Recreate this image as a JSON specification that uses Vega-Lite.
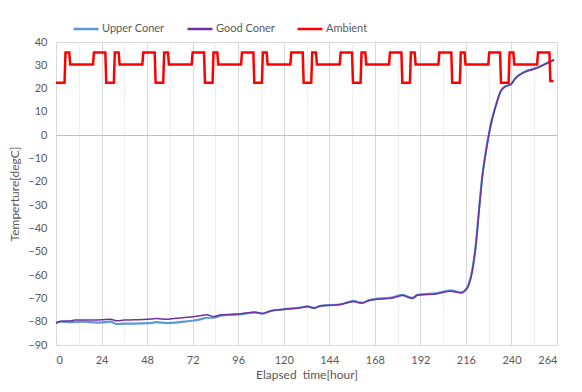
{
  "$schema": "https://vega.github.io/schema/vega-lite/v6.json",
  "width": 501,
  "height": 303,
  "autosize": "none",
  "padding": {"left": 56, "top": 42, "right": 25, "bottom": 47},
  "background": "white",
  "config": {
    "font": "Lato",
    "view": {"stroke": "#d9d9d9"},
    "axis": {
      "labelColor": "#595959",
      "titleColor": "#595959",
      "labelFontSize": 11,
      "titleFontSize": 12,
      "titleFontWeight": "normal",
      "ticks": false,
      "domain": false,
      "gridWidth": 1
    }
  },
  "data": {
    "values": [
      {"s": "Upper Coner", "h": 0, "t": -80.4},
      {"s": "Upper Coner", "h": 3, "t": -80.0},
      {"s": "Upper Coner", "h": 7.5, "t": -80.2},
      {"s": "Upper Coner", "h": 14.6, "t": -80.0},
      {"s": "Upper Coner", "h": 20, "t": -80.3},
      {"s": "Upper Coner", "h": 23.4, "t": -80.4},
      {"s": "Upper Coner", "h": 28.6, "t": -80.0},
      {"s": "Upper Coner", "h": 32, "t": -81.0},
      {"s": "Upper Coner", "h": 36, "t": -80.8},
      {"s": "Upper Coner", "h": 41, "t": -80.8},
      {"s": "Upper Coner", "h": 49.7, "t": -80.6},
      {"s": "Upper Coner", "h": 53, "t": -80.2},
      {"s": "Upper Coner", "h": 58.5, "t": -80.6},
      {"s": "Upper Coner", "h": 67.3, "t": -80.0},
      {"s": "Upper Coner", "h": 72, "t": -79.6},
      {"s": "Upper Coner", "h": 76, "t": -79.0},
      {"s": "Upper Coner", "h": 79.6, "t": -78.3},
      {"s": "Upper Coner", "h": 83, "t": -78.3},
      {"s": "Upper Coner", "h": 86.7, "t": -77.4},
      {"s": "Upper Coner", "h": 97, "t": -76.9},
      {"s": "Upper Coner", "h": 105, "t": -76.0},
      {"s": "Upper Coner", "h": 108.7, "t": -76.6},
      {"s": "Upper Coner", "h": 113, "t": -75.4},
      {"s": "Upper Coner", "h": 120, "t": -74.7},
      {"s": "Upper Coner", "h": 129, "t": -73.9},
      {"s": "Upper Coner", "h": 132.4, "t": -73.4},
      {"s": "Upper Coner", "h": 136, "t": -74.1},
      {"s": "Upper Coner", "h": 139.4, "t": -73.2},
      {"s": "Upper Coner", "h": 150, "t": -72.5},
      {"s": "Upper Coner", "h": 157, "t": -71.1},
      {"s": "Upper Coner", "h": 159.6, "t": -71.7},
      {"s": "Upper Coner", "h": 161.4, "t": -71.9},
      {"s": "Upper Coner", "h": 165, "t": -70.7},
      {"s": "Upper Coner", "h": 178, "t": -69.4},
      {"s": "Upper Coner", "h": 182.5, "t": -68.5},
      {"s": "Upper Coner", "h": 187.8, "t": -69.8},
      {"s": "Upper Coner", "h": 190.4, "t": -68.5},
      {"s": "Upper Coner", "h": 201, "t": -67.7},
      {"s": "Upper Coner", "h": 208, "t": -66.5},
      {"s": "Upper Coner", "h": 211.5, "t": -67.2},
      {"s": "Upper Coner", "h": 213.3, "t": -67.5},
      {"s": "Upper Coner", "h": 216, "t": -66.2},
      {"s": "Upper Coner", "h": 217.6, "t": -63.6},
      {"s": "Upper Coner", "h": 219.2, "t": -58.5},
      {"s": "Upper Coner", "h": 221.2, "t": -47.0},
      {"s": "Upper Coner", "h": 223, "t": -31.0},
      {"s": "Upper Coner", "h": 224.7, "t": -17.0},
      {"s": "Upper Coner", "h": 226.5, "t": -7.0},
      {"s": "Upper Coner", "h": 229, "t": 4.2},
      {"s": "Upper Coner", "h": 231.7, "t": 12.6},
      {"s": "Upper Coner", "h": 234.4, "t": 19.0},
      {"s": "Upper Coner", "h": 237, "t": 21.1},
      {"s": "Upper Coner", "h": 239.6, "t": 21.8},
      {"s": "Upper Coner", "h": 242.3, "t": 24.7},
      {"s": "Upper Coner", "h": 246.7, "t": 27.1},
      {"s": "Upper Coner", "h": 253.7, "t": 29.0},
      {"s": "Upper Coner", "h": 259, "t": 31.1},
      {"s": "Upper Coner", "h": 262.5, "t": 32.4},

      {"s": "Good Coner", "h": 0, "t": -80.7},
      {"s": "Good Coner", "h": 1, "t": -80.2},
      {"s": "Good Coner", "h": 3, "t": -79.8},
      {"s": "Good Coner", "h": 7.5, "t": -79.7},
      {"s": "Good Coner", "h": 10, "t": -79.3},
      {"s": "Good Coner", "h": 14.6, "t": -79.3},
      {"s": "Good Coner", "h": 20, "t": -79.3},
      {"s": "Good Coner", "h": 24, "t": -79.2},
      {"s": "Good Coner", "h": 28.6, "t": -78.9},
      {"s": "Good Coner", "h": 32, "t": -79.6},
      {"s": "Good Coner", "h": 36, "t": -79.3},
      {"s": "Good Coner", "h": 41, "t": -79.2},
      {"s": "Good Coner", "h": 48, "t": -79.0},
      {"s": "Good Coner", "h": 53, "t": -78.6},
      {"s": "Good Coner", "h": 58.5, "t": -79.0},
      {"s": "Good Coner", "h": 62, "t": -78.6},
      {"s": "Good Coner", "h": 70.8, "t": -78.0},
      {"s": "Good Coner", "h": 76, "t": -77.5},
      {"s": "Good Coner", "h": 79.6, "t": -77.0},
      {"s": "Good Coner", "h": 83, "t": -77.8},
      {"s": "Good Coner", "h": 86.7, "t": -77.1},
      {"s": "Good Coner", "h": 97, "t": -76.6},
      {"s": "Good Coner", "h": 105, "t": -75.9},
      {"s": "Good Coner", "h": 108.7, "t": -76.5},
      {"s": "Good Coner", "h": 113, "t": -75.4},
      {"s": "Good Coner", "h": 120, "t": -74.7},
      {"s": "Good Coner", "h": 129, "t": -74.0},
      {"s": "Good Coner", "h": 132.4, "t": -73.5},
      {"s": "Good Coner", "h": 136, "t": -74.2},
      {"s": "Good Coner", "h": 139.4, "t": -73.3},
      {"s": "Good Coner", "h": 150, "t": -72.6},
      {"s": "Good Coner", "h": 157, "t": -71.3},
      {"s": "Good Coner", "h": 159.6, "t": -71.9},
      {"s": "Good Coner", "h": 161.4, "t": -72.0},
      {"s": "Good Coner", "h": 165, "t": -70.9},
      {"s": "Good Coner", "h": 178, "t": -69.7},
      {"s": "Good Coner", "h": 182.5, "t": -68.8},
      {"s": "Good Coner", "h": 187.8, "t": -70.0},
      {"s": "Good Coner", "h": 190.4, "t": -68.7},
      {"s": "Good Coner", "h": 201, "t": -68.0},
      {"s": "Good Coner", "h": 208, "t": -66.9},
      {"s": "Good Coner", "h": 211.5, "t": -67.4},
      {"s": "Good Coner", "h": 213.3, "t": -67.7},
      {"s": "Good Coner", "h": 216, "t": -66.4},
      {"s": "Good Coner", "h": 217.6, "t": -64.0},
      {"s": "Good Coner", "h": 219.2, "t": -59.0},
      {"s": "Good Coner", "h": 221.2, "t": -47.6},
      {"s": "Good Coner", "h": 223, "t": -31.8},
      {"s": "Good Coner", "h": 224.7, "t": -17.6},
      {"s": "Good Coner", "h": 226.5, "t": -7.5},
      {"s": "Good Coner", "h": 229, "t": 3.9},
      {"s": "Good Coner", "h": 231.7, "t": 12.4},
      {"s": "Good Coner", "h": 234.4, "t": 18.9},
      {"s": "Good Coner", "h": 237, "t": 21.0},
      {"s": "Good Coner", "h": 239.6, "t": 21.7},
      {"s": "Good Coner", "h": 242.3, "t": 24.6},
      {"s": "Good Coner", "h": 246.7, "t": 27.0},
      {"s": "Good Coner", "h": 253.7, "t": 28.9},
      {"s": "Good Coner", "h": 259, "t": 31.0},
      {"s": "Good Coner", "h": 262.5, "t": 32.4},

      {"s": "Ambient", "h": 0, "t": 22.5},
      {"s": "Ambient", "h": 4.5, "t": 22.5},
      {"s": "Ambient", "h": 5, "t": 35.5},
      {"s": "Ambient", "h": 7, "t": 35.5},
      {"s": "Ambient", "h": 7.5, "t": 30.4},
      {"s": "Ambient", "h": 19.5, "t": 30.4},
      {"s": "Ambient", "h": 20, "t": 35.5},
      {"s": "Ambient", "h": 26, "t": 35.5},
      {"s": "Ambient", "h": 26.5, "t": 22.5},
      {"s": "Ambient", "h": 30.5, "t": 22.5},
      {"s": "Ambient", "h": 31, "t": 35.5},
      {"s": "Ambient", "h": 33, "t": 35.5},
      {"s": "Ambient", "h": 33.5, "t": 30.4},
      {"s": "Ambient", "h": 45.5, "t": 30.4},
      {"s": "Ambient", "h": 46, "t": 35.5},
      {"s": "Ambient", "h": 52, "t": 35.5},
      {"s": "Ambient", "h": 52.5, "t": 22.5},
      {"s": "Ambient", "h": 56.5, "t": 22.5},
      {"s": "Ambient", "h": 57, "t": 35.5},
      {"s": "Ambient", "h": 59, "t": 35.5},
      {"s": "Ambient", "h": 59.5, "t": 30.4},
      {"s": "Ambient", "h": 71.5, "t": 30.4},
      {"s": "Ambient", "h": 72, "t": 35.5},
      {"s": "Ambient", "h": 78, "t": 35.5},
      {"s": "Ambient", "h": 78.5, "t": 22.5},
      {"s": "Ambient", "h": 82.5, "t": 22.5},
      {"s": "Ambient", "h": 83, "t": 35.5},
      {"s": "Ambient", "h": 85, "t": 35.5},
      {"s": "Ambient", "h": 85.5, "t": 30.4},
      {"s": "Ambient", "h": 97.5, "t": 30.4},
      {"s": "Ambient", "h": 98, "t": 35.5},
      {"s": "Ambient", "h": 104, "t": 35.5},
      {"s": "Ambient", "h": 104.5, "t": 22.5},
      {"s": "Ambient", "h": 108.5, "t": 22.5},
      {"s": "Ambient", "h": 109, "t": 35.5},
      {"s": "Ambient", "h": 111, "t": 35.5},
      {"s": "Ambient", "h": 111.5, "t": 30.4},
      {"s": "Ambient", "h": 123.5, "t": 30.4},
      {"s": "Ambient", "h": 124, "t": 35.5},
      {"s": "Ambient", "h": 130, "t": 35.5},
      {"s": "Ambient", "h": 130.5, "t": 22.5},
      {"s": "Ambient", "h": 134.5, "t": 22.5},
      {"s": "Ambient", "h": 135, "t": 35.5},
      {"s": "Ambient", "h": 137, "t": 35.5},
      {"s": "Ambient", "h": 137.5, "t": 30.4},
      {"s": "Ambient", "h": 149.5, "t": 30.4},
      {"s": "Ambient", "h": 150, "t": 35.5},
      {"s": "Ambient", "h": 156, "t": 35.5},
      {"s": "Ambient", "h": 156.5, "t": 22.5},
      {"s": "Ambient", "h": 160.5, "t": 22.5},
      {"s": "Ambient", "h": 161, "t": 35.5},
      {"s": "Ambient", "h": 163, "t": 35.5},
      {"s": "Ambient", "h": 163.5, "t": 30.4},
      {"s": "Ambient", "h": 175.5, "t": 30.4},
      {"s": "Ambient", "h": 176, "t": 35.5},
      {"s": "Ambient", "h": 182, "t": 35.5},
      {"s": "Ambient", "h": 182.5, "t": 22.5},
      {"s": "Ambient", "h": 186.5, "t": 22.5},
      {"s": "Ambient", "h": 187, "t": 35.5},
      {"s": "Ambient", "h": 189, "t": 35.5},
      {"s": "Ambient", "h": 189.5, "t": 30.4},
      {"s": "Ambient", "h": 201.5, "t": 30.4},
      {"s": "Ambient", "h": 202, "t": 35.5},
      {"s": "Ambient", "h": 208.3, "t": 35.5},
      {"s": "Ambient", "h": 208.8, "t": 22.5},
      {"s": "Ambient", "h": 212.8, "t": 22.5},
      {"s": "Ambient", "h": 213.3, "t": 35.5},
      {"s": "Ambient", "h": 215.3, "t": 35.5},
      {"s": "Ambient", "h": 215.8, "t": 30.4},
      {"s": "Ambient", "h": 227.8, "t": 30.4},
      {"s": "Ambient", "h": 228.3, "t": 35.5},
      {"s": "Ambient", "h": 234, "t": 35.5},
      {"s": "Ambient", "h": 234.5, "t": 22.5},
      {"s": "Ambient", "h": 238.5, "t": 22.5},
      {"s": "Ambient", "h": 239, "t": 35.5},
      {"s": "Ambient", "h": 241, "t": 35.5},
      {"s": "Ambient", "h": 241.5, "t": 30.4},
      {"s": "Ambient", "h": 253.5, "t": 30.4},
      {"s": "Ambient", "h": 254, "t": 35.5},
      {"s": "Ambient", "h": 260, "t": 35.5},
      {"s": "Ambient", "h": 260.5, "t": 23.3},
      {"s": "Ambient", "h": 262.2, "t": 23.3}
    ]
  },
  "encoding": {
    "x": {
      "field": "h",
      "type": "quantitative",
      "scale": {"domain": [0, 264], "nice": false, "zero": false},
      "axis": {
        "values": [0, 12, 24, 36, 48, 60, 72, 84, 96, 108, 120, 132, 144, 156, 168, 180, 192, 204, 216, 228, 240, 252, 264],
        "labelExpr": "datum.value % 24 === 0 ? datum.label : ''",
        "gridColor": {"condition": {"test": "datum.value % 24 === 0", "value": "#d9d9d9"}, "value": "#efefef"},
        "labelPadding": 9,
        "titlePadding": 4,
        "title": "Elapsed\u00a0 time[hour]"
      }
    },
    "y": {
      "field": "t",
      "type": "quantitative",
      "scale": {"domain": [-90, 40], "nice": false, "zero": false},
      "axis": {
        "values": [-90, -85, -80, -75, -70, -65, -60, -55, -50, -45, -40, -35, -30, -25, -20, -15, -10, -5, 0, 5, 10, 15, 20, 25, 30, 35, 40],
        "labelExpr": "datum.value % 10 === 0 ? datum.label : ''",
        "gridColor": {"condition": {"test": "datum.value === 0", "value": "#bfbfbf"}, "value": {"expr": "datum.value % 10 === 0 ? '#d9d9d9' : '#efefef'"}},
        "labelPadding": 9,
        "titlePadding": 6,
        "title": "Temperture[degC]"
      }
    },
    "color": {
      "field": "s",
      "type": "nominal",
      "scale": {"domain": ["Upper Coner", "Good Coner", "Ambient"], "range": ["#5B9BD5", "#7030A0", "#FF0000"]},
      "legend": {
        "orient": "none",
        "legendX": 16,
        "legendY": -27,
        "direction": "horizontal",
        "title": null,
        "symbolType": "stroke",
        "symbolSize": 625,
        "symbolStrokeWidth": 2.5,
        "labelFontSize": 11,
        "labelColor": "#595959",
        "labelOffset": 2,
        "columnPadding": 17
      }
    }
  },
  "layer": [
    {"transform": [{"filter": "datum.s === 'Upper Coner'"}], "mark": {"type": "line", "strokeWidth": 2.2, "interpolate": "monotone"}},
    {"transform": [{"filter": "datum.s === 'Good Coner'"}], "mark": {"type": "line", "strokeWidth": 1.5, "interpolate": "monotone"}},
    {"transform": [{"filter": "datum.s === 'Ambient'"}], "mark": {"type": "line", "strokeWidth": 2.5}}
  ]
}
